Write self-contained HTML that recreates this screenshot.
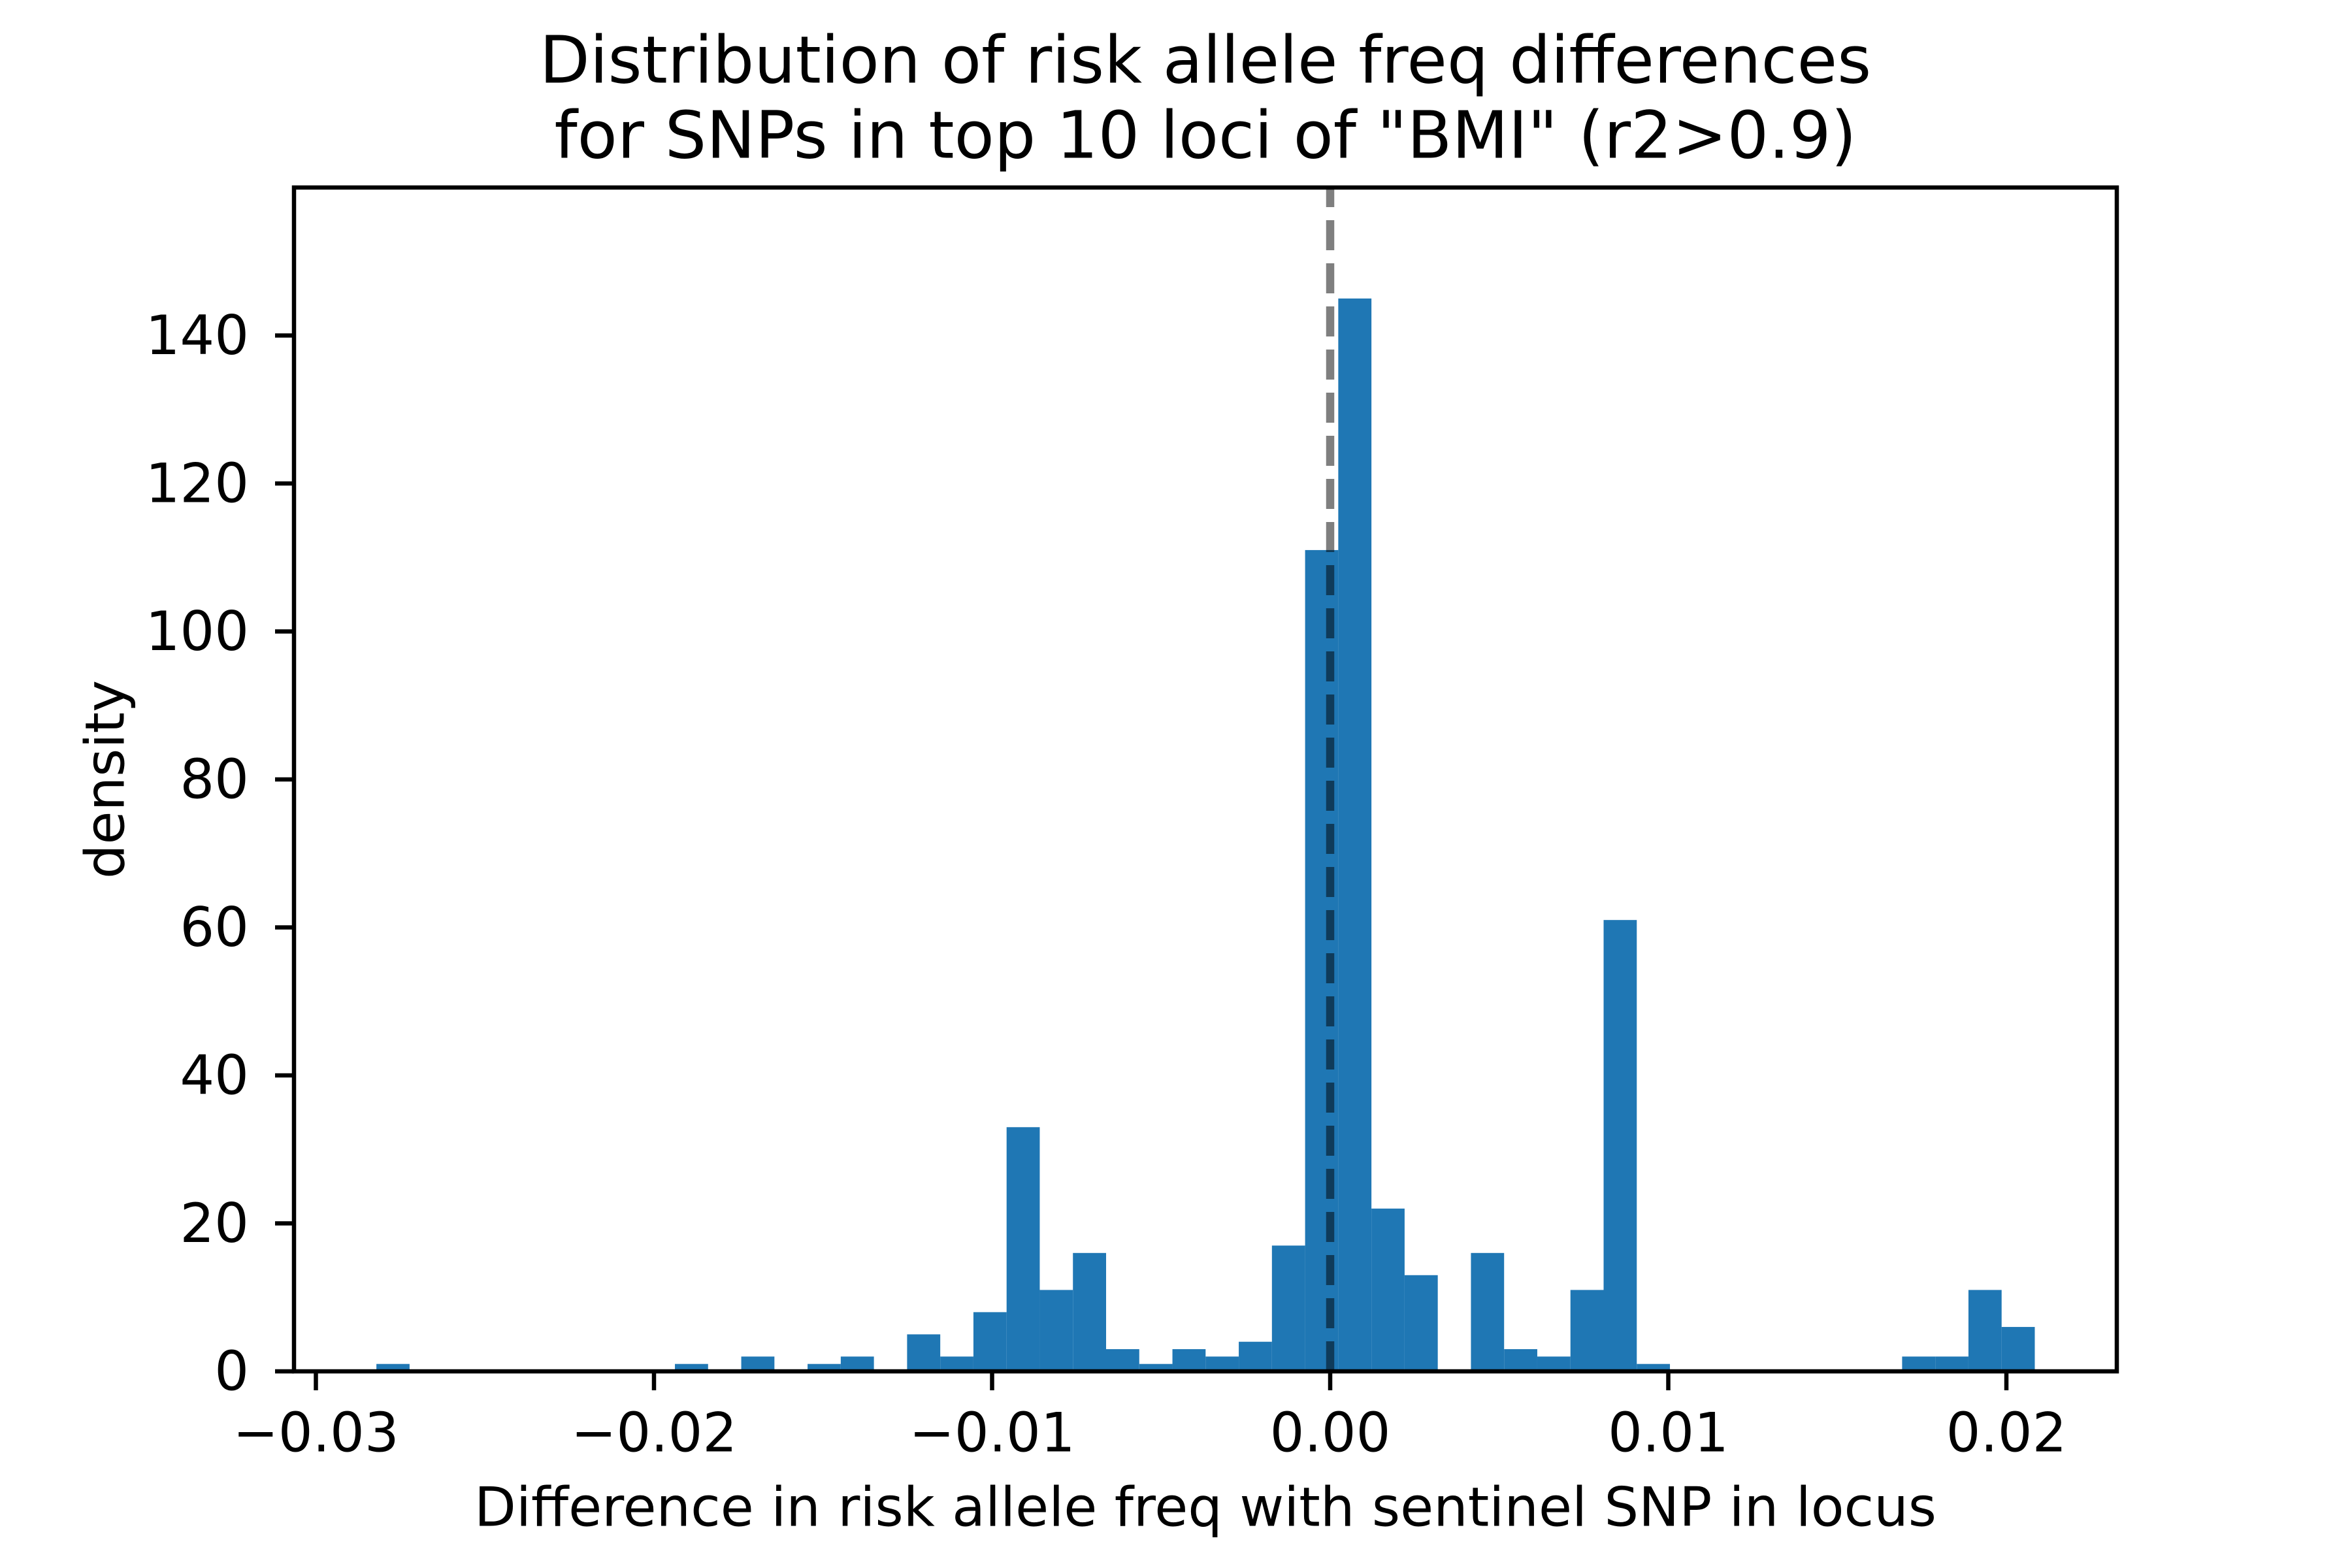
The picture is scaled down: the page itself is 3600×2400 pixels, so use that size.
<!DOCTYPE html>
<html><head><meta charset="utf-8"><style>
html,body{margin:0;padding:0;background:#fff;}
svg{display:block;}
text{font-family:"DejaVu Sans","Liberation Sans",sans-serif;fill:#000;}
</style></head><body>
<svg id="chart" width="3600" height="2400" viewBox="0 0 3600 2400" xmlns="http://www.w3.org/2000/svg">
<rect width="3600" height="2400" fill="#fff"/>
<text x="1845" y="92" font-size="100" text-anchor="middle" dominant-baseline="central">Distribution of risk allele freq differences</text>
<text x="1845" y="207" font-size="100" text-anchor="middle" dominant-baseline="central">for SNPs in top 10 loci of "BMI" (r2&gt;0.9)</text>
<g id="bars"></g>
<g id="xticks"></g>
<g id="yticks"></g>
<text x="1845" y="2307" font-size="83" text-anchor="middle" dominant-baseline="central">Difference in risk allele freq with sentinel SNP in locus</text>
<text x="161" y="1193" font-size="83" text-anchor="middle" dominant-baseline="central" transform="rotate(-90 161 1193)">density</text>
</svg>
<script>
const binStart = -0.02821;
const binWidth = 0.000981;
const binCounts = [1,0,0,0,0,0,0,0,0,1,0,2,0,1,2,0,5,2,8,33,11,16,3,1,3,2,4,17,111,145,22,13,0,16,3,2,11,61,1,0,0,0,0,0,0,0,2,2,11,6];
const xTickValues = [-0.03,-0.02,-0.01,0,0.01,0.02];
const xTickLabels = ["\u22120.03","\u22120.02","\u22120.01","0.00","0.01","0.02"];
const yTickValues = [0,20,40,60,80,100,120,140];
const vlineValue = 0;

const L=450,R=3240,T=287,B=2099;
const yMax=160;
const sx=v=>2036+v*51750;
const sy=v=>B-(B-T)*v/yMax;
const NS="http://www.w3.org/2000/svg";
const svg=document.getElementById('chart');
const bars=document.getElementById('bars');
binCounts.forEach((c,i)=>{
  if(c<=0) return;
  const x0=sx(binStart+i*binWidth), x1=sx(binStart+(i+1)*binWidth);
  const r=document.createElementNS(NS,'rect');
  r.setAttribute('x',x0);r.setAttribute('width',x1-x0);
  r.setAttribute('y',sy(c));r.setAttribute('height',B-sy(c));
  r.setAttribute('fill','#1f77b4');
  
  
  bars.appendChild(r);
});
// vline
const vl=document.createElementNS(NS,'line');
vl.setAttribute('x1',sx(vlineValue));vl.setAttribute('x2',sx(vlineValue));
vl.setAttribute('y1',B);vl.setAttribute('y2',T);
vl.setAttribute('stroke','rgba(0,0,0,0.5)');vl.setAttribute('stroke-width','12.5');
vl.setAttribute('stroke-dasharray','46 20');


svg.appendChild(vl);
// frame
const fr=document.createElementNS(NS,'rect');
fr.setAttribute('x',L);fr.setAttribute('y',T);fr.setAttribute('width',R-L);fr.setAttribute('height',B-T);
fr.setAttribute('fill','none');fr.setAttribute('stroke','#000');fr.setAttribute('stroke-width','6.5');


svg.appendChild(fr);
const xg=document.getElementById('xticks');
xTickValues.forEach((v,i)=>{
  const x=sx(v);
  const t=document.createElementNS(NS,'line');
  t.setAttribute('x1',x);t.setAttribute('x2',x);t.setAttribute('y1',B);t.setAttribute('y2',B+29);
  t.setAttribute('stroke','#000');t.setAttribute('stroke-width','6.5');
  
  
  xg.appendChild(t);
  const s=document.createElementNS(NS,'text');
  s.setAttribute('x',x);s.setAttribute('y',2193);s.setAttribute('font-size','83');
  s.setAttribute('text-anchor','middle');s.setAttribute('dominant-baseline','central');
  s.textContent=xTickLabels[i];
  
  
  xg.appendChild(s);
});
const yg=document.getElementById('yticks');
yTickValues.forEach(v=>{
  const y=sy(v);
  const t=document.createElementNS(NS,'line');
  t.setAttribute('x1',L-29);t.setAttribute('x2',L);t.setAttribute('y1',y);t.setAttribute('y2',y);
  t.setAttribute('stroke','#000');t.setAttribute('stroke-width','6.5');
  
  
  yg.appendChild(t);
  const s=document.createElementNS(NS,'text');
  s.setAttribute('x',381);s.setAttribute('y',y);s.setAttribute('font-size','83');
  s.setAttribute('text-anchor','end');s.setAttribute('dominant-baseline','central');
  s.textContent=String(v);
  
  
  yg.appendChild(s);
});
</script>
</body></html>
